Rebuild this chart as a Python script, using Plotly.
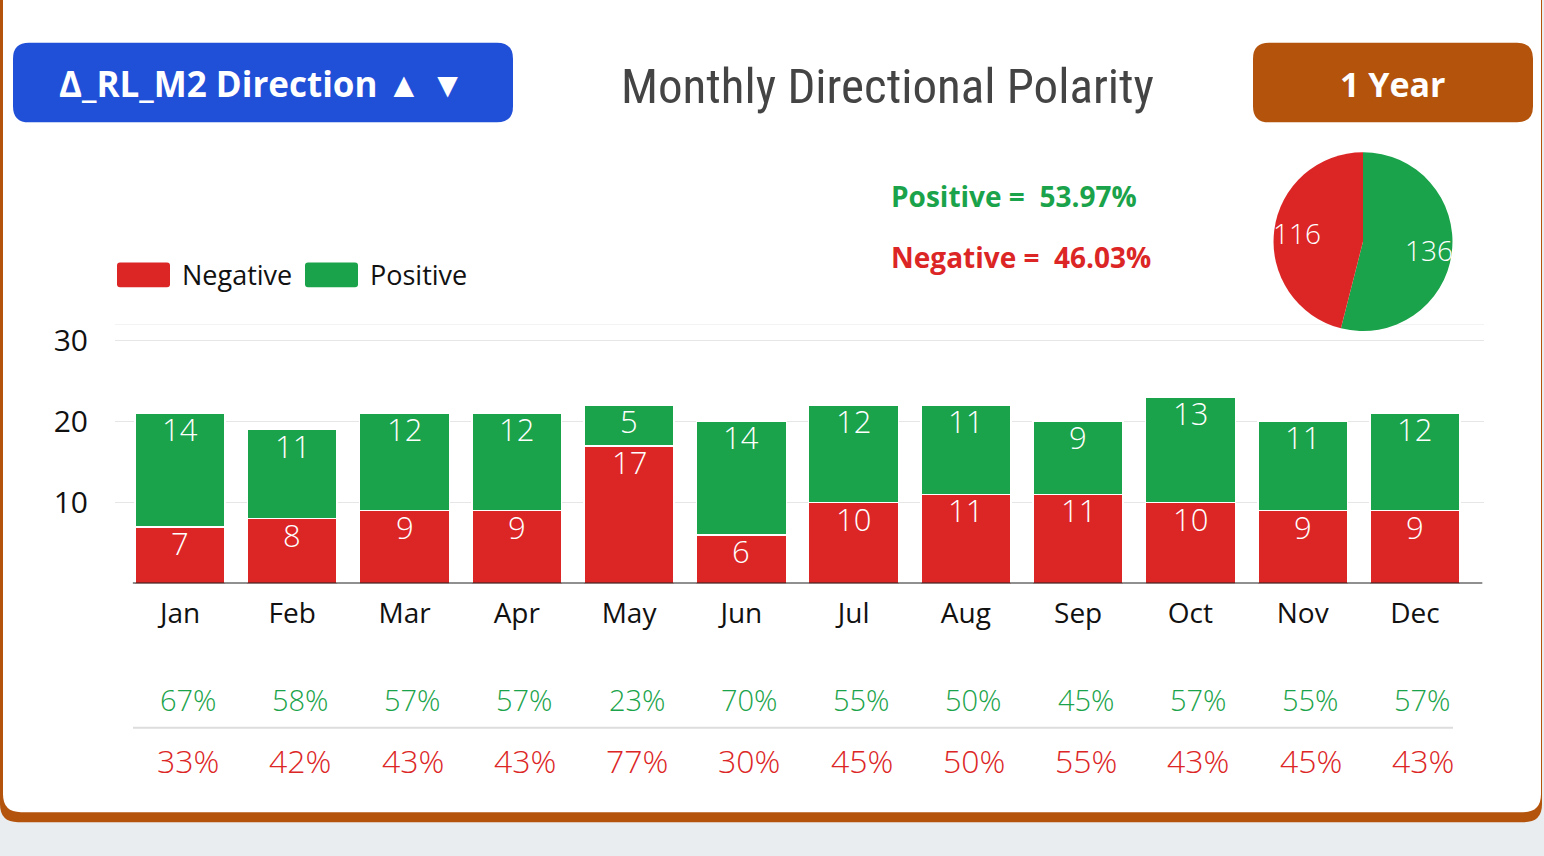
import math
import plotly.graph_objects as go

W, H = 1544, 856

months = ["Jan", "Feb", "Mar", "Apr", "May", "Jun", "Jul", "Aug", "Sep", "Oct", "Nov", "Dec"]
negative = [7, 8, 9, 9, 17, 6, 10, 11, 11, 10, 9, 9]
positive = [14, 11, 12, 12, 5, 14, 12, 11, 9, 13, 11, 12]
pos_pct = ["67%", "58%", "57%", "57%", "23%", "70%", "55%", "50%", "45%", "57%", "55%", "57%"]
neg_pct = ["33%", "42%", "43%", "43%", "77%", "30%", "45%", "50%", "55%", "43%", "45%", "43%"]
pie_labels = ["Positive", "Negative"]
pie_values = [136, 116]
summary_pos = "Positive =  53.97%"
summary_neg = "Negative =  46.03%"
y_ticks = [10, 20, 30]

RED = "#dc2626"
GREEN = "#1aa34a"
BLUE = "#2150d8"
ORANGE = "#b4540c"
FONT = "Open Sans, Noto Sans, sans-serif"
TITLE_FONT = "Roboto Condensed, Liberation Sans Narrow, DejaVu Sans Condensed, sans-serif"

DY = -4  # vertical correction for the header area


def px(x):
    return x / W


def py(y):
    return 1 - y / H


def rrect(x0, y0, x1, y1, r):
    pts = [
        f"M {px(x0 + r)} {py(y0)}",
        f"L {px(x1 - r)} {py(y0)}",
        f"Q {px(x1)} {py(y0)} {px(x1)} {py(y0 + r)}",
        f"L {px(x1)} {py(y1 - r)}",
        f"Q {px(x1)} {py(y1)} {px(x1 - r)} {py(y1)}",
        f"L {px(x0 + r)} {py(y1)}",
        f"Q {px(x0)} {py(y1)} {px(x0)} {py(y1 - r)}",
        f"L {px(x0)} {py(y0 + r)}",
        f"Q {px(x0)} {py(y0)} {px(x0 + r)} {py(y0)}",
        "Z",
    ]
    return " ".join(pts)


def note(text, x, y, size, color, family=FONT, xanchor="center", xref="paper", xshift=0, weight=None):
    f = dict(color=color, size=size, family=family)
    if weight:
        f["weight"] = weight
    return dict(text=text, x=x, y=py(y), xref=xref, yref="paper", xanchor=xanchor, yanchor="middle",
                xshift=xshift, showarrow=False, font=f)


xs = list(range(len(months)))

# pie geometry (pixels)
PIE_X0, PIE_X1 = 1273, 1453
PIE_Y0, PIE_Y1 = 152 + DY, 332 + DY
pie_cx, pie_cy = (PIE_X0 + PIE_X1) / 2, (PIE_Y0 + PIE_Y1) / 2
pie_r = (PIE_X1 - PIE_X0) / 2

fig = go.Figure()
fig.add_trace(go.Bar(
    x=xs, y=negative, name="Negative", marker=dict(color=RED, line=dict(color="white", width=1.5)),
    showlegend=False, hoverinfo="skip",
))
fig.add_trace(go.Bar(
    x=xs, y=positive, name="Positive", marker=dict(color=GREEN, line=dict(color="white", width=1.5)),
    showlegend=False, hoverinfo="skip",
))
fig.add_trace(go.Pie(
    labels=pie_labels, values=pie_values, sort=False, direction="clockwise", rotation=0,
    marker=dict(colors=[GREEN, RED]), textinfo="none", showlegend=False,
    domain=dict(x=[px(PIE_X0), px(PIE_X1)], y=[py(PIE_Y1), py(PIE_Y0)]), hoverinfo="skip",
))

shapes = []
# card
shapes.append(dict(type="path", path=rrect(0, -40, 1542, 822, 18), xref="paper", yref="paper",
                   fillcolor=ORANGE, line=dict(width=0), layer="below"))
shapes.append(dict(type="path", path=rrect(3, -40, 1541, 812, 18), xref="paper", yref="paper",
                   fillcolor="white", line=dict(width=0), layer="below"))
# buttons
shapes.append(dict(type="path", path=rrect(13, 42 + DY, 513, 122 + DY, 16), xref="paper", yref="paper",
                   fillcolor=BLUE, line=dict(width=0), layer="below"))
shapes.append(dict(type="path", path=rrect(1253, 42 + DY, 1533, 122 + DY, 16), xref="paper", yref="paper",
                   fillcolor=ORANGE, line=dict(width=0), layer="below"))
# legend swatches
shapes.append(dict(type="path", path=rrect(117, 263 + DY, 170, 288 + DY, 3), xref="paper", yref="paper",
                   fillcolor=RED, line=dict(width=0)))
shapes.append(dict(type="path", path=rrect(305, 263 + DY, 358, 288 + DY, 3), xref="paper", yref="paper",
                   fillcolor=GREEN, line=dict(width=0)))
# top grid line
shapes.append(dict(type="line", xref="paper", yref="y", x0=px(115), x1=px(1484), y0=32, y1=32,
                   line=dict(color="#e6e6e6", width=1), layer="below"))
# baseline
shapes.append(dict(type="line", xref="x", yref="y", x0=-0.42, x1=11.6, y0=0, y1=0,
                   line=dict(color="#222", width=2)))
# separator between percent rows
shapes.append(dict(type="line", xref="paper", yref="paper", x0=px(133), x1=px(1453), y0=py(727), y1=py(727),
                   line=dict(color="#dddddd", width=2)))

ann = []
ann.append(note("<b>Δ_RL_M2 Direction ▲ ▼</b>", px(262), 83 + DY, 35, "white"))
ann.append(note("<b>1 Year</b>", px(1393), 83 + DY, 34, "white"))
ann.append(note("Monthly Directional Polarity", px(887), 86 + DY, 49, "#444444", family=TITLE_FONT))
ann.append(note(f"<b>{summary_pos}</b>", px(889), 196 + DY, 28, GREEN, xanchor="left"))
ann.append(note(f"<b>{summary_neg}</b>", px(889), 257 + DY, 28, RED, xanchor="left"))
ann.append(note("Negative", px(180), 275 + DY, 27, "#111", xanchor="left"))
ann.append(note("Positive", px(368), 275 + DY, 27, "#111", xanchor="left"))

# pie value labels along each slice's mid-angle (clockwise from 12 o'clock)
total = sum(pie_values)
start = 0.0
for v in pie_values:
    frac = v / total
    mid = (start + frac / 2) * 2 * math.pi
    lx = pie_cx + 0.74 * pie_r * math.sin(mid)
    ly = pie_cy - 0.74 * pie_r * math.cos(mid)
    ann.append(note(str(v), px(lx), ly, 28, "white", weight=300))
    start += frac

for i in xs:
    ann.append(note(pos_pct[i], i, 699, 29, GREEN, xref="x", xshift=8, weight=300))
    ann.append(note(neg_pct[i], i, 760, 32, RED, xref="x", xshift=8, weight=300))
    # bar value labels, anchored at the top of each stacked segment
    ann.append(dict(text=str(negative[i]), x=i, y=negative[i], xref="x", yref="y",
                    xanchor="center", yanchor="top", yshift=7, showarrow=False,
                    font=dict(color="white", size=31, family=FONT, weight=300)))
    ann.append(dict(text=str(positive[i]), x=i, y=negative[i] + positive[i], xref="x", yref="y",
                    xanchor="center", yanchor="top", yshift=7, showarrow=False,
                    font=dict(color="white", size=31, family=FONT, weight=300)))

fig.update_layout(
    width=W, height=H, margin=dict(l=0, r=0, t=0, b=0),
    paper_bgcolor="#e9edf0", plot_bgcolor="rgba(0,0,0,0)",
    barmode="stack", bargap=0.2,
    shapes=shapes, annotations=ann,
    font=dict(family=FONT, color="#111"),
    xaxis=dict(domain=[px(115), px(1484)], range=[-0.579, 11.615], tickvals=xs, ticktext=months,
               showgrid=False, zeroline=False, showline=False, ticks="",
               tickfont=dict(size=28, color="#111", family=FONT), ticklabelstandoff=10, fixedrange=True),
    yaxis=dict(domain=[py(582), py(321)], range=[0, 32], tickvals=y_ticks,
               showgrid=True, gridcolor="#e6e6e6", gridwidth=1, zeroline=False, showline=False, ticks="",
               tickfont=dict(size=30, color="#111", family=FONT), ticklabelstandoff=26, fixedrange=True),
)

fig.write_html("out.html", config={"displayModeBar": False},
               post_script="document.body.style.margin='0';")
